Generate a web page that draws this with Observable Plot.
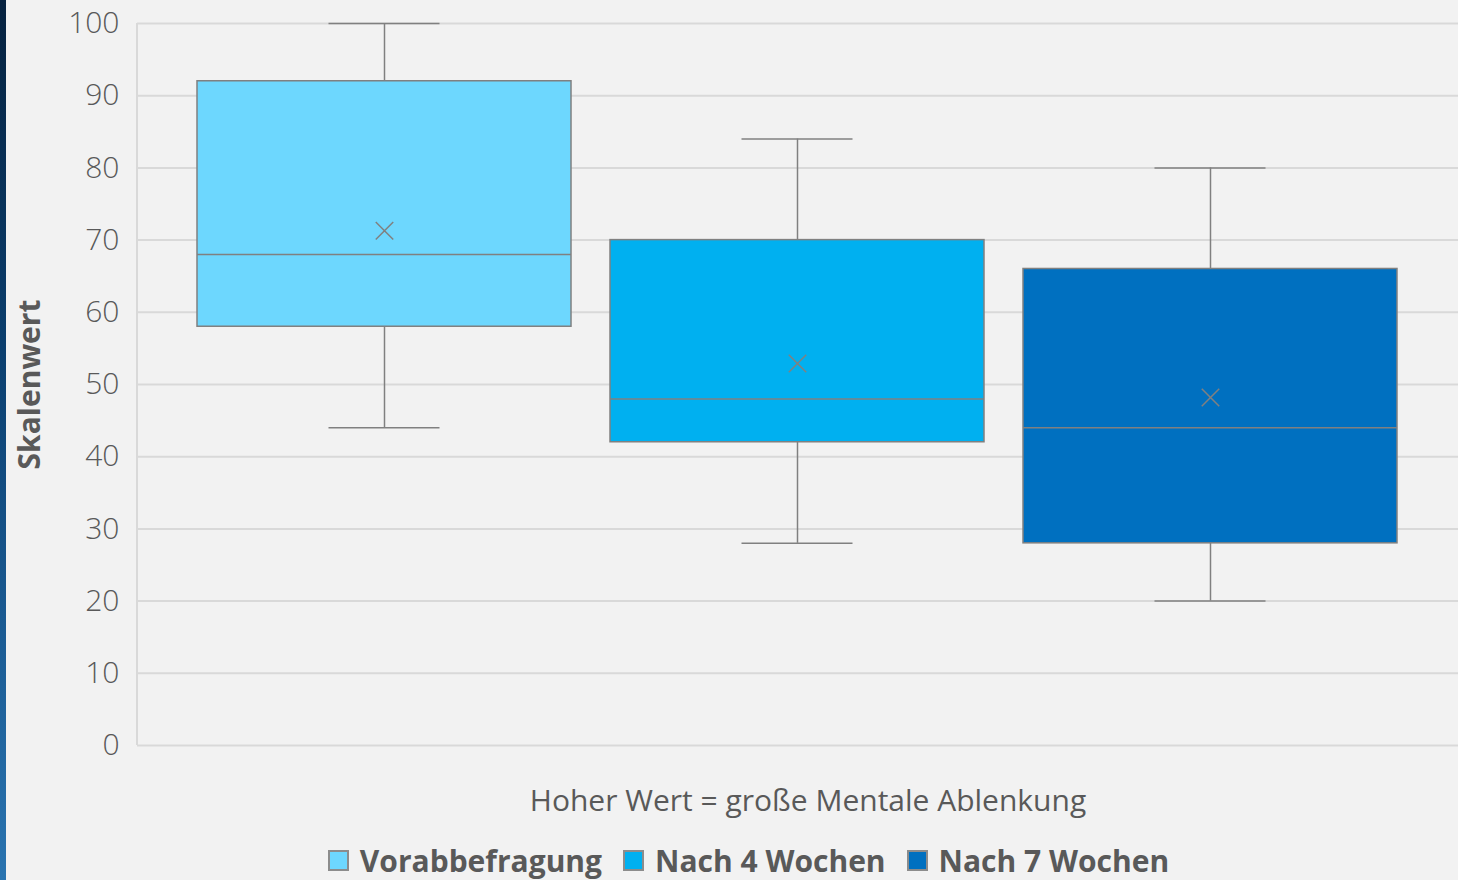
<!DOCTYPE html>
<html><head><meta charset="utf-8">
<script src="https://cdn.jsdelivr.net/npm/d3@7"></script>
<script src="https://cdn.jsdelivr.net/npm/@observablehq/plot@0.6"></script>
<style>
html,body{margin:0;padding:0;background:#f2f2f2;width:1458px;height:880px;overflow:hidden;font-family:"Open Sans",sans-serif;}
#strip{position:absolute;left:0;top:0;width:6px;height:880px;background:linear-gradient(#06223f,#0b3f6f 40%,#1a5a92 70%,#2a74b0);}
#chart{position:absolute;left:0;top:0;}
#caption{position:absolute;top:779px;left:148px;width:1320px;text-align:center;font-size:30px;color:#595959;}
#legend{position:absolute;top:840px;left:0;width:1497px;display:flex;justify-content:center;font-size:30px;font-weight:bold;color:#595959;white-space:nowrap;}
#legend span.sw{display:inline-block;width:17px;height:17px;border:2px solid #8c8c8c;vertical-align:middle;margin-right:11px;position:relative;top:-3px;}
#legend span.it{margin-left:21px;}
#legend span.it:first-child{margin-left:0;}
</style></head>
<body>
<div id="strip"></div>
<div id="chart"></div>
<div id="caption">Hoher Wert = große Mentale Ablenkung</div>
<div id="legend"></div>
<script>
const groups = ["Vorabbefragung", "Nach 4 Wochen", "Nach 7 Wochen"];
const minV = [44, 28, 20];
const q1V = [58, 42, 28];
const medV = [68, 48, 44];
const q3V = [92, 70, 66];
const maxV = [100, 84, 80];
const meanV = [71.3, 52.9, 48.2];
const colors = ["#6dd7fe", "#00b0f0", "#0070c0"];
const yTicks = [0, 10, 20, 30, 40, 50, 60, 70, 80, 90, 100];

const data = groups.map((g, i) => ({g, min: minV[i], q1: q1V[i], med: medV[i], q3: q3V[i], max: maxV[i], mean: meanV[i]}));
const gray = "#808080";

function leftAxisLine(index, scales, values, dimensions) {
  const {marginLeft} = dimensions;
  const g = d3.create("svg:g");
  g.append("line")
    .attr("x1", marginLeft).attr("x2", marginLeft)
    .attr("y1", scales.y(100)).attr("y2", scales.y(0))
    .attr("stroke", "#d9d9d9").attr("stroke-width", 2);
  return g.node();
}

const chart = Plot.plot({
  width: 1458,
  height: 770,
  marginLeft: 137,
  marginRight: 0,
  marginTop: 23,
  marginBottom: 25,
  style: {background: "transparent", fontFamily: "Open Sans, sans-serif", fontSize: "30px", color: "#595959"},
  x: {domain: groups, range: [177.5, 1416.5], paddingInner: 0.094, paddingOuter: 0.047, axis: null},
  y: {domain: [0, 100], ticks: yTicks},
  color: {domain: groups, range: colors},
  marks: [
    Plot.ruleY(yTicks, {stroke: "#d9d9d9", strokeWidth: 2}),
    leftAxisLine,
    Plot.axisY({ticks: yTicks, tickSize: 0, tickPadding: 18, label: "Skalenwert", labelAnchor: "center", labelArrow: "none", labelOffset: 119, fill: "#595959", fontSize: 30, fontWeight: 300}),
    Plot.ruleX(data, {x: "g", y1: "min", y2: "q1", stroke: gray, strokeWidth: 1.5}),
    Plot.ruleX(data, {x: "g", y1: "q3", y2: "max", stroke: gray, strokeWidth: 1.5}),
    Plot.tickY(data, {x: "g", y: "min", stroke: gray, strokeWidth: 1.5, insetLeft: 131.5, insetRight: 131.5}),
    Plot.tickY(data, {x: "g", y: "max", stroke: gray, strokeWidth: 1.5, insetLeft: 131.5, insetRight: 131.5}),
    Plot.barY(data, {x: "g", y1: "q1", y2: "q3", fill: "g", stroke: gray, strokeWidth: 1.5}),
    Plot.tickY(data, {x: "g", y: "med", stroke: gray, strokeWidth: 1.5}),
    Plot.dot(data, {x: "g", y: "mean", symbol: "times", r: 8, stroke: gray, strokeWidth: 1.5})
  ]
});
chart.querySelectorAll("g[aria-label='y-axis label']").forEach(e => {e.setAttribute("font-weight", "bold");});
document.getElementById("chart").appendChild(chart);

const lg = document.getElementById("legend");
groups.forEach((g, i) => {
  const it = document.createElement("span");
  it.className = "it";
  it.innerHTML = `<span class="sw" style="background:${colors[i]}"></span>${g}`;
  lg.appendChild(it);
});
</script>
</body></html>
